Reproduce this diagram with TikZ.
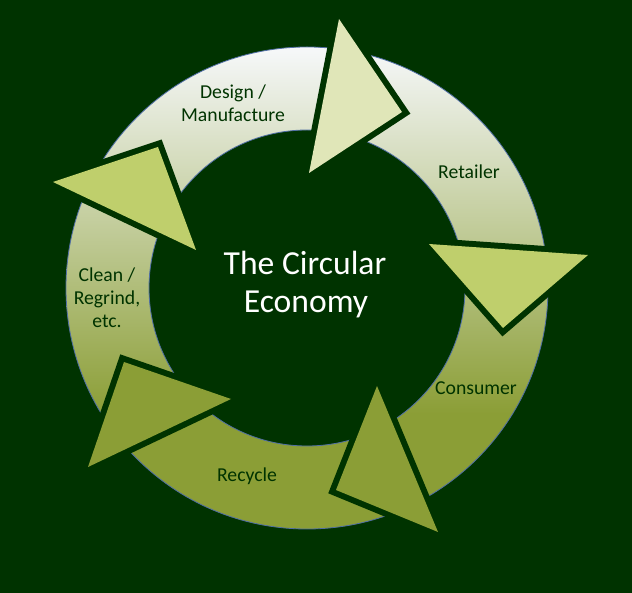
\documentclass[tikz,border=0pt]{standalone}
\usepackage{fontspec}
\setmainfont{Carlito}
\usetikzlibrary{calc}
\definecolor{bg}{RGB}{0,51,0}
\definecolor{ringtop}{RGB}{246,248,250}
\definecolor{ringmid}{RGB}{202,208,164}
\definecolor{ringbot}{RGB}{139,158,54}
\definecolor{tri1}{RGB}{224,230,184}
\definecolor{tri2}{RGB}{191,207,108}
\definecolor{tri3}{RGB}{139,158,54}
\definecolor{ringedge}{RGB}{80,110,165}
\begin{document}
\begin{tikzpicture}[x=1pt,y=-1pt,
  arrowhead/.style={preaction={draw=bg, line width=12pt, line join=miter, miter limit=10}},
  lbl/.style={text=bg, font=\fontsize{19.7}{23}\selectfont, anchor=base, inner sep=0pt},
  titletext/.style={text=white, font=\fontsize{33.6}{39}\selectfont, anchor=base, inner sep=0pt}]
\useasboundingbox (0,0) rectangle (632,593);
\fill[bg] (0,0) rectangle (632,593);
\coordinate (c) at (307,288);
% ring with vertical gradient
\begin{scope}
  \clip ($(c)+(241,0)$) arc[start angle=0, end angle=360, radius=241] -- cycle
        ($(c)+(158,0)$) arc[start angle=360, end angle=0, radius=158] -- cycle;
  \shade[top color=ringtop, middle color=ringmid, bottom color=ringbot] (0,47) rectangle (632,414);
  \fill[ringbot] (0,413) rectangle (632,540);
\end{scope}
\draw[ringedge, line width=0.8pt] (c) circle[radius=241];
\draw[ringedge, line width=0.8pt] (c) circle[radius=158];
% arrowheads
\path[arrowhead, fill=tri1] (339,19) -- (402,112) -- (309,173) -- cycle;
\path[arrowhead, fill=tri2] (429,244) -- (588,255) -- (503,328) -- cycle;
\path[arrowhead, fill=tri3] (377,386) -- (438,532) -- (336,490) -- cycle;
\path[arrowhead, fill=tri3] (124,362) -- (231,399) -- (88,467) -- cycle;
\path[arrowhead, fill=tri2] (53,182) -- (158,147) -- (196,250) -- cycle;
% labels
\node[lbl] (design1) at (233,99) {Design /};
\node[lbl] (design2) at (233,122) {Manufacture};
\node[lbl] (retailer) at (469,179) {Retailer};
\node[lbl] (consumer) at (476,395) {Consumer};
\node[lbl] (recycle) at (247,481) {Recycle};
\node[lbl] (clean1) at (107,282) {Clean /};
\node[lbl] (clean2) at (107,305) {Regrind,};
\node[lbl] (clean3) at (107,328) {etc.};
\node[titletext] (title1) at (305,275) {The Circular};
\node[titletext] (title2) at (306,313) {Economy};
\end{tikzpicture}
\end{document}
